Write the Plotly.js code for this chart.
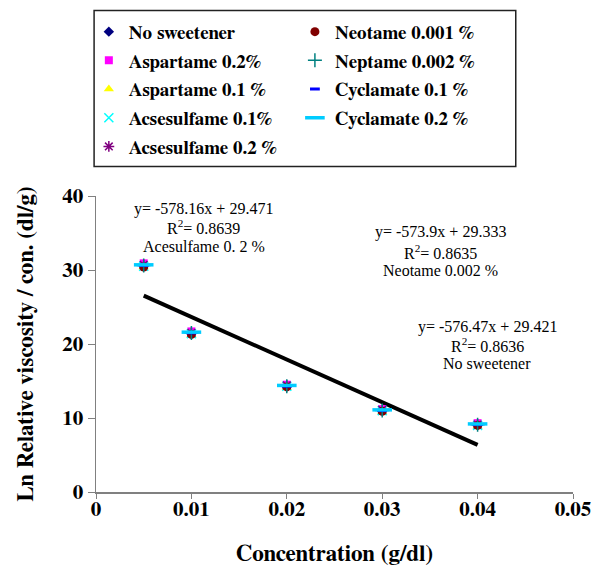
<!DOCTYPE html>
<html>
<head>
<meta charset="utf-8">
<script src="https://cdn.plot.ly/plotly-3.0.1.min.js"></script>
<style>html,body{margin:0;padding:0;background:#fff;}#chart{width:602px;height:566px;}</style>
</head>
<body>
<div id="chart"></div>
<script>
// Concentrations (g/dl)
var conc = [0.005, 0.01, 0.02, 0.03, 0.04];

// Ln relative viscosity / concentration (dl/g)
var noSweetener    = [30.6, 21.5, 14.3, 11.0, 9.1];
var aspartame02    = [30.9, 21.7, 14.5, 11.2, 9.3];
var aspartame01    = [30.4, 21.2, 14.1, 10.8, 8.9];
var acsesulfame01  = [30.5, 21.4, 14.3, 11.0, 9.0];
var acsesulfame02  = [30.7, 21.5, 14.4, 11.1, 9.1];
var neotame0001    = [30.4, 21.3, 14.2, 10.9, 9.0];
var neptame0002    = [30.6, 21.5, 14.3, 11.0, 9.1];
var cyclamate01    = [30.6, 21.5, 14.3, 11.0, 9.1];
var cyclamate02    = [30.7, 21.6, 14.4, 11.1, 9.2];

// Linear trend (No sweetener): y = -576.47x + 29.421
var trendX = [0.005, 0.04];
var trendY = [26.54, 6.36];

var seriesNames = ["No sweetener", "Aspartame 0.2%", "Aspartame 0.1 %", "Acsesulfame 0.1%", "Acsesulfame 0.2 %",
                   "Neotame 0.001 %", "Neptame 0.002 %", "Cyclamate 0.1 %", "Cyclamate 0.2 %"];

var annoLines = [
  ["y= -578.16x + 29.471", "R<sup>2</sup>= 0.8639", "Acesulfame 0. 2 %"],
  ["y= -573.9x + 29.333", "R<sup>2</sup>= 0.8635", "Neotame 0.002 %"],
  ["y= -576.47x + 29.421", "R<sup>2</sup>= 0.8636", "No sweetener"]
];

var serif = "Liberation Serif, Times New Roman, serif";
var boldSerif = "FreeSerif, serif";

function mk(name, y, symbol, color, size, legend, lineW, lineColor) {
  return {
    type: 'scatter', mode: 'markers', x: conc, y: y, name: name,
    legend: legend, legendgroup: name,
    marker: {symbol: symbol, color: color, size: size,
             line: {width: lineW || 0, color: lineColor || color}}
  };
}

var traces = [
  {type:'scatter', mode:'lines', x: trendX, y: trendY, showlegend:false, legend:'legend3',
   line:{color:'#000000', width:4}, hoverinfo:'skip'},
  mk(seriesNames[0], noSweetener, 'diamond', '#000080', 8, 'legend'),
  mk(seriesNames[1], aspartame02, 'square', '#FF00FF', 8, 'legend'),
  mk(seriesNames[2], aspartame01, 'triangle-up', '#FFFF00', 9, 'legend'),
  mk(seriesNames[3], acsesulfame01, 'x-thin', '#00FFFF', 9, 'legend', 1.5),
  mk(seriesNames[4], acsesulfame02, 'asterisk', '#800080', 9, 'legend', 1.5),
  mk(seriesNames[5], neotame0001, 'circle', '#800000', 9, 'legend2'),
  mk(seriesNames[6], neptame0002, 'cross-thin', '#008080', 10, 'legend2', 1.5),
  mk(seriesNames[7], cyclamate01, 'line-ew', '#0000FF', 7, 'legend2', 3),
  mk(seriesNames[8], cyclamate02, 'line-ew', '#00CCFF', 14, 'legend2', 3.5)
];

var annoX = [0.01132, 0.03611, 0.04099];
var annoY = [[38.3, 35.8, 33.2], [35.1, 32.5, 30.0], [22.3, 19.8, 17.3]];
var annotations = [];
for (var i = 0; i < annoLines.length; i++) {
  for (var j = 0; j < 3; j++) {
    annotations.push({xref:'x', yref:'y', x: annoX[i], y: annoY[i][j], text: annoLines[i][j],
      showarrow:false, xanchor:'center', yanchor:'middle',
      font:{family: serif, size: 16, color:'#000'}});
  }
}

var legendFont = {family: boldSerif, size: 19, color:'#000', weight: 'bold'};

var layout = {
  width: 602, height: 566,
  margin: {l: 96, r: 29, t: 196, b: 74},
  paper_bgcolor: '#fff', plot_bgcolor: '#fff',
  showlegend: true,
  xaxis: {range:[0, 0.05], dtick: 0.01, tick0: 0, showgrid:false, zeroline:false,
          showline:true, linecolor:'#808080', linewidth:1.5, ticks:'outside', ticklen:5, tickcolor:'#808080',
          ticklabelstandoff: -8,
          tickfont:{family: boldSerif, size: 21, color:'#000', weight:'bold'},
          title:{text:'Concentration (g/dl)', standoff: 33, font:{family: boldSerif, size: 23, color:'#000', weight:'bold'}}},
  yaxis: {range:[0, 40], dtick: 10, tick0: 0, showgrid:false, zeroline:false,
          showline:true, linecolor:'#808080', linewidth:1.5, ticks:'outside', ticklen:7, tickcolor:'#808080',
          tickfont:{family: boldSerif, size: 21, color:'#000', weight:'bold'},
          title:{text:'Ln Relative viscosity / con. (dl/g)', standoff: 22, font:{family: boldSerif, size: 23, color:'#000', weight:'bold'}}},
  legend: {x: -0.015, y: 1.619, xanchor:'left', yanchor:'top', orientation:'v',
           bgcolor:'rgba(0,0,0,0)', font: legendFont, tracegroupgap: 1, itemwidth: 30},
  legend2: {x: 0.417, y: 1.619, xanchor:'left', yanchor:'top', orientation:'v',
           bgcolor:'rgba(0,0,0,0)', font: legendFont, tracegroupgap: 1, itemwidth: 30},
  legend3: {visible: false},
  shapes: [{type:'rect', xref:'paper', yref:'paper', x0: -0.004, x1: 0.880, y0: 1.1, y1: 1.627,
            line:{color:'#222', width:1.5}, fillcolor:'rgba(0,0,0,0)'}],
  annotations: annotations
};

Plotly.newPlot('chart', traces, layout, {staticPlot: true, displayModeBar: false});
</script>
</body>
</html>
